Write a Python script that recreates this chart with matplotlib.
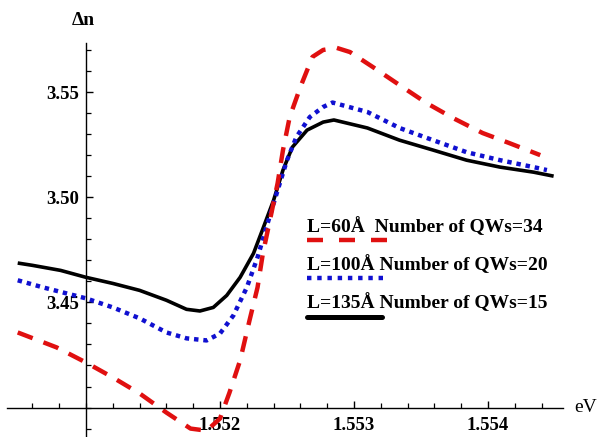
import matplotlib
matplotlib.use("Agg")
import matplotlib.pyplot as plt
from matplotlib.ticker import MultipleLocator

plt.rcParams['font.family'] = ['Liberation Serif', 'DejaVu Serif']

# L=60A, 34 QWs
x_60 = [1.55049, 1.55078, 1.55100, 1.55120, 1.55140, 1.55160, 1.55178, 1.55190,
        1.55200, 1.55207, 1.55215, 1.55222, 1.55228, 1.55232, 1.55237, 1.55243,
        1.55247, 1.55252, 1.55260, 1.55269, 1.55277, 1.55287, 1.55297, 1.55314,
        1.55334, 1.55354, 1.55374, 1.55396, 1.55416, 1.55439]
n_60 = [3.4357, 3.4286, 3.4214, 3.4143, 3.4067, 3.3976, 3.3900, 3.3890,
        3.3948, 3.4070, 3.4224, 3.4414, 3.4571, 3.4733, 3.4883, 3.5067,
        3.5224, 3.5381, 3.5524, 3.5667, 3.5700, 3.5710, 3.5690, 3.5619,
        3.5533, 3.5448, 3.5376, 3.5305, 3.5257, 3.5200]

# L=100A, 20 QWs
x_100 = [1.55049, 1.55068, 1.55100, 1.55120, 1.55140, 1.55160, 1.55175, 1.55190,
         1.55200, 1.55210, 1.55220, 1.55228, 1.55235, 1.55243, 1.55250, 1.55257,
         1.55267, 1.55277, 1.55284, 1.55310, 1.55334, 1.55359, 1.55384, 1.55409,
         1.55434, 1.55444]
n_100 = [3.4605, 3.4571, 3.4519, 3.4476, 3.4424, 3.4357, 3.4329, 3.4319,
         3.4352, 3.4438, 3.4571, 3.4714, 3.4865, 3.5033, 3.5176, 3.5286,
         3.5381, 3.5429, 3.5450, 3.5405, 3.5329, 3.5271, 3.5214, 3.5176,
         3.5143, 3.5129]

# L=135A, 15 QWs
x_135 = [1.55049, 1.55060, 1.55081, 1.55100, 1.55120, 1.55140, 1.55160, 1.55175,
         1.55185, 1.55195, 1.55205, 1.55215, 1.55225, 1.55232, 1.55240, 1.55247,
         1.55254, 1.55265, 1.55277, 1.55285, 1.55310, 1.55334, 1.55359, 1.55384,
         1.55409, 1.55434, 1.55449]
n_135 = [3.4687, 3.4676, 3.4652, 3.4619, 3.4590, 3.4557, 3.4510, 3.4467,
         3.4459, 3.4476, 3.4533, 3.4619, 3.4733, 3.4850, 3.4986, 3.5129,
         3.5238, 3.5319, 3.5357, 3.5367, 3.5329, 3.5271, 3.5224, 3.5176,
         3.5143, 3.5119, 3.5100]

labels = ['L=60\u00c5  Number of QWs=34',
          'L=100\u00c5 Number of QWs=20',
          'L=135\u00c5 Number of QWs=15']
x_ticks = [1.552, 1.553, 1.554]
y_ticks = [3.45, 3.50, 3.55]

red = '#e01010'
blue = '#1010d0'

fig = plt.figure(figsize=(5.99, 4.37), dpi=100)
ax = fig.add_axes([7 / 599, 0.0, 556 / 599, 394 / 437])

ax.plot(x_135, n_135, color='black', lw=2.6, solid_capstyle='butt')
ax.plot(x_100, n_100, color=blue, lw=3.2, dashes=(1.0, 1.1))
ax.plot(x_60, n_60, color=red, lw=3.2, dashes=(3.6, 2.6))

ax.set_xlim(1.55041, 1.55456)
ax.set_ylim(3.386, 3.5733)

ax.spines['left'].set_position(('data', 1.551))
ax.spines['bottom'].set_position(('data', 3.40))
ax.spines['top'].set_visible(False)
ax.spines['right'].set_visible(False)
for s in ['left', 'bottom']:
    ax.spines[s].set_linewidth(1.0)

ax.set_xticks(x_ticks)
ax.set_xticklabels(['%.3f' % v for v in x_ticks], fontweight='bold')
ax.set_yticks(y_ticks)
ax.set_yticklabels(['%.2f' % v for v in y_ticks], fontweight='bold')
ax.xaxis.set_minor_locator(MultipleLocator(0.0002))
ax.yaxis.set_minor_locator(MultipleLocator(0.01))
ax.tick_params(which='major', direction='in', length=5, width=1.0, labelsize=13.5)
ax.tick_params(axis='x', which='major', pad=7)
ax.tick_params(axis='y', which='major', pad=5)
ax.tick_params(which='minor', direction='in', length=3.5, width=0.9)

ax.text(0.138, 1.058, '\u0394n', transform=ax.transAxes, ha='center', va='center',
        fontsize=14, fontweight='bold', clip_on=False)
ax.text(1.041, 0.076, 'eV', transform=ax.transAxes, ha='center', va='center',
        fontsize=14, clip_on=False)

# legend: text above a short sample of each line
styles = [dict(color=red, lw=3.2, dashes=(3.6, 3.6)),
          dict(color=blue, lw=3.2, dashes=(1.0, 1.3)),
          dict(color='black', lw=3.6, solid_capstyle='round')]
text_y = [0.533, 0.437, 0.340]
line_y = [0.500, 0.404, 0.305]
line_end = [0.683, 0.683, 0.674]
for lab, st, ty, ly, le in zip(labels, styles, text_y, line_y, line_end):
    ax.text(0.540, ty, lab, transform=ax.transAxes, ha='left', va='center',
            fontsize=14, fontweight='bold')
    ax.plot([0.540, le], [ly, ly], transform=ax.transAxes, **st)

fig.savefig('out.png', dpi=100)
